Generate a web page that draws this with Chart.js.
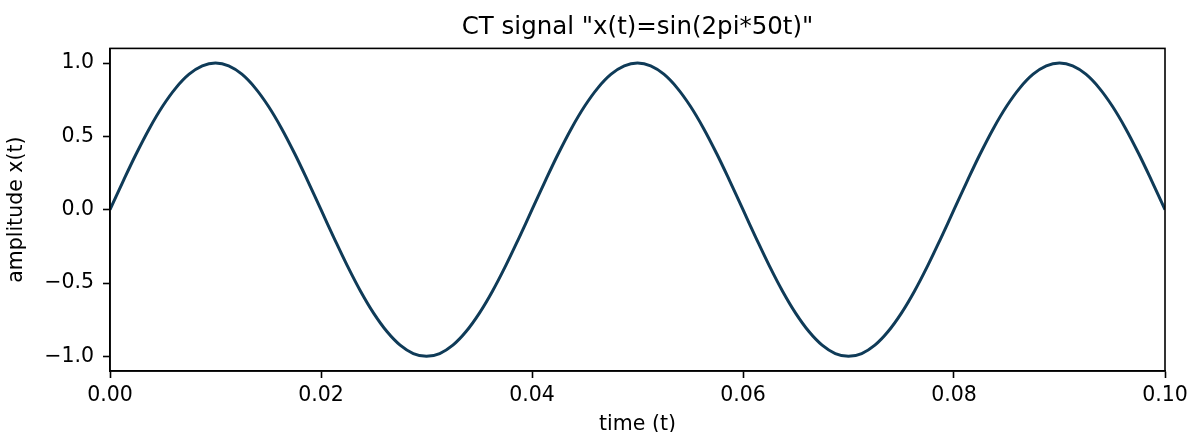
<!DOCTYPE html>
<html>
<head>
<meta charset="utf-8">
<script src="https://cdn.jsdelivr.net/npm/chart.js@4"></script>
<style>
  body { margin: 0; background: #fff; }
  #wrap { width: 1191px; height: 432px; }
</style>
</head>
<body>
<div id="wrap"><canvas id="myChart" width="1191" height="432"></canvas></div>
<script>
// time samples (s)
const times = [
  0, 0.00125, 0.0025, 0.00375, 0.005, 0.00625, 0.0075, 0.00875,
  0.01, 0.01125, 0.0125, 0.01375, 0.015, 0.01625, 0.0175, 0.01875,
  0.02, 0.02125, 0.0225, 0.02375, 0.025, 0.02625, 0.0275, 0.02875,
  0.03, 0.03125, 0.0325, 0.03375, 0.035, 0.03625, 0.0375, 0.03875,
  0.04, 0.04125, 0.0425, 0.04375, 0.045, 0.04625, 0.0475, 0.04875,
  0.05, 0.05125, 0.0525, 0.05375, 0.055, 0.05625, 0.0575, 0.05875,
  0.06, 0.06125, 0.0625, 0.06375, 0.065, 0.06625, 0.0675, 0.06875,
  0.07, 0.07125, 0.0725, 0.07375, 0.075, 0.07625, 0.0775, 0.07875,
  0.08, 0.08125, 0.0825, 0.08375, 0.085, 0.08625, 0.0875, 0.08875,
  0.09, 0.09125, 0.0925, 0.09375, 0.095, 0.09625, 0.0975, 0.09875,
  0.1
]
// amplitude
const amplitude = [
  0, 0.195, 0.383, 0.556, 0.707, 0.831, 0.924, 0.981,
  1, 0.981, 0.924, 0.831, 0.707, 0.556, 0.383, 0.195,
  0, -0.195, -0.383, -0.556, -0.707, -0.831, -0.924, -0.981,
  -1, -0.981, -0.924, -0.831, -0.707, -0.556, -0.383, -0.195,
  0, 0.195, 0.383, 0.556, 0.707, 0.831, 0.924, 0.981,
  1, 0.981, 0.924, 0.831, 0.707, 0.556, 0.383, 0.195,
  0, -0.195, -0.383, -0.556, -0.707, -0.831, -0.924, -0.981,
  -1, -0.981, -0.924, -0.831, -0.707, -0.556, -0.383, -0.195,
  0, 0.195, 0.383, 0.556, 0.707, 0.831, 0.924, 0.981,
  1, 0.981, 0.924, 0.831, 0.707, 0.556, 0.383, 0.195,
  0
]
const xTicks = [0, 0.02, 0.04, 0.06, 0.08, 0.1]
const yTicks = [-1, -0.5, 0, 0.5, 1]

const FONT = 'DejaVu Sans'
const LABEL_SIZE = 20.5

const points = []
for (let i = 0; i < times.length; i++) {
  points.push({x: times[i], y: amplitude[i]})
}

// box around the plot area, like matplotlib spines
const frame = {
  id: 'frame',
  afterDraw(chart) {
    const a = chart.chartArea
    const c = chart.ctx
    c.save()
    c.strokeStyle = '#000'
    c.lineWidth = 1.6
    c.strokeRect(a.left, a.top, a.right - a.left, a.bottom - a.top)
    c.restore()
  }
}

const ctx = document.getElementById('myChart').getContext('2d')
const myChart = new Chart(ctx, {
  type: 'line',
  data: {
    datasets: [{
      data: points,
      borderColor: '#0f3b58',
      borderWidth: 3,
      pointRadius: 0,
      tension: 0.4,
      fill: false
    }]
  },
  options: {
    responsive: false,
    animation: false,
    devicePixelRatio: 1,
    layout: { padding: { left: 0, right: 26, top: 0, bottom: 0 } },
    plugins: {
      legend: { display: false },
      tooltip: { enabled: false },
      title: {
        display: true,
        fullSize: false,
        text: 'CT signal "x(t)=sin(2pi*50t)"',
        color: '#000',
        font: { family: FONT, size: 24.5, weight: 'normal' },
        padding: { top: 13, bottom: 6 }
      }
    },
    scales: {
      x: {
        type: 'linear',
        min: 0,
        max: 0.1,
        afterFit(scale) {
          scale.height = 61
          scale.paddingLeft = 0
          scale.paddingRight = 0
        },
        afterBuildTicks(scale) { scale.ticks = xTicks.map(v => ({value: v})) },
        grid: { drawOnChartArea: false, drawTicks: true, tickLength: 7, tickWidth: 1.6, color: '#000' },
        border: { display: true, color: '#000', width: 1.6 },
        ticks: {
          color: '#000',
          padding: 5,
          maxRotation: 0,
          font: { family: FONT, size: LABEL_SIZE },
          callback: v => v.toFixed(2)
        },
        title: {
          display: true,
          text: 'time (t)',
          color: '#000',
          font: { family: FONT, size: LABEL_SIZE },
          padding: { top: 4, bottom: -5 }
        }
      },
      y: {
        min: -1.1,
        max: 1.1,
        afterFit(scale) { scale.width = 110 },
        afterBuildTicks(scale) { scale.ticks = yTicks.map(v => ({value: v})) },
        grid: { drawOnChartArea: false, drawTicks: true, tickLength: 7, tickWidth: 1.6, color: '#000' },
        border: { display: true, color: '#000', width: 1.6 },
        ticks: {
          color: '#000',
          padding: 9,
          font: { family: FONT, size: LABEL_SIZE },
          callback: v => v.toFixed(1).replace('-', '\u2212')
        },
        title: {
          display: true,
          text: 'amplitude x(t)',
          color: '#000',
          font: { family: FONT, size: LABEL_SIZE },
          padding: { top: 4.5, bottom: 4.5 }
        }
      }
    }
  },
  plugins: [frame]
})
</script>
</body>
</html>
